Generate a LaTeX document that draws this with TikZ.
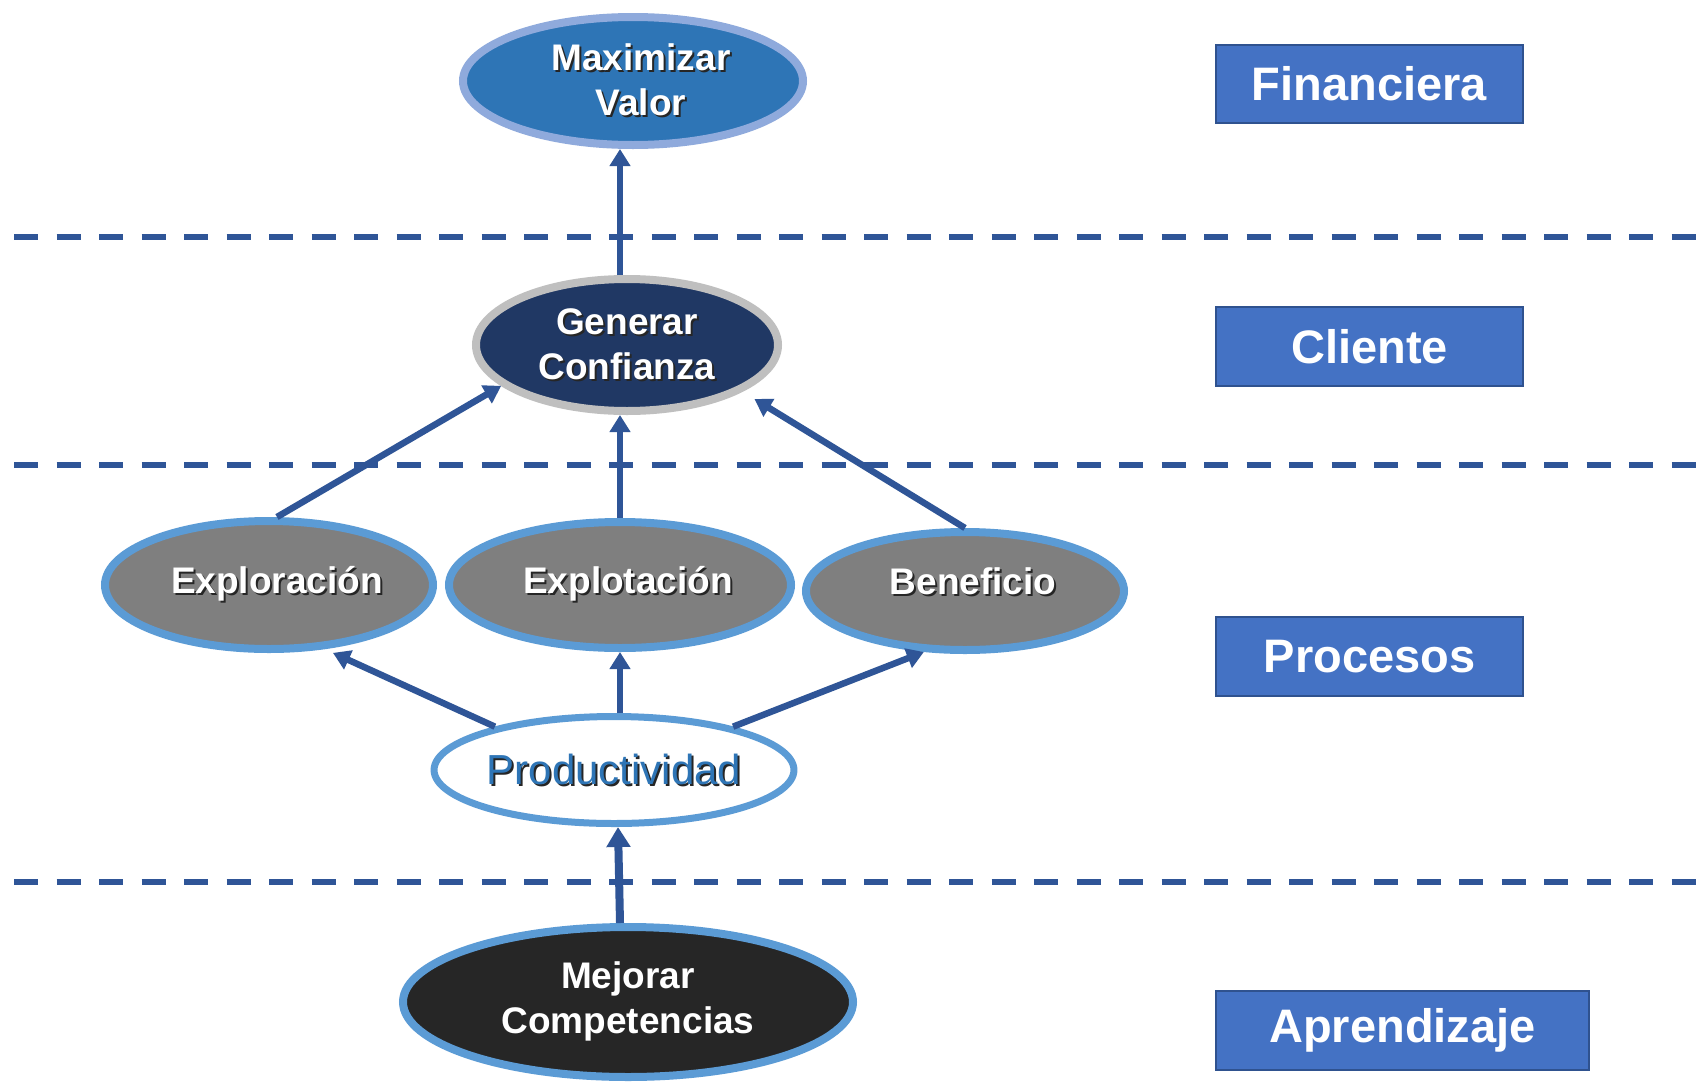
\documentclass[tikz,border=0pt]{standalone}
\usepackage{fontspec}
\setmainfont{Liberation Sans}
\usetikzlibrary{shapes.geometric,arrows.meta}
\definecolor{arrowblue}{HTML}{2F5597}
\definecolor{maxfill}{HTML}{2E75B6}
\definecolor{maxline}{HTML}{8FAADC}
\definecolor{navy}{HTML}{203864}
\definecolor{lgray}{HTML}{BFBFBF}
\definecolor{midgray}{HTML}{7F7F7F}
\definecolor{skyline}{HTML}{5B9BD5}
\definecolor{darkfill}{HTML}{262626}
\definecolor{boxfill}{HTML}{4472C4}
\definecolor{boxline}{HTML}{2F528F}
\definecolor{prodblue}{HTML}{2E75B6}
\newcommand{\sht}[1]{\leavevmode\rlap{\kern2pt\raisebox{-2pt}{\textcolor{black!85}{#1}}}#1}
\newcommand{\rs}{\hspace*{16pt}}
\begin{document}
\begin{tikzpicture}[x=1pt,y=-1pt,
  ell/.style={ellipse, inner sep=0pt, line width=8pt, align=center,
    font=\fontsize{37}{45}\selectfont\bfseries, text=white},
  lvl/.style={draw=boxline, line width=1.5pt, fill=boxfill, text=white,
    font=\fontsize{47}{56}\selectfont\bfseries, inner sep=0pt},
  arr/.style={draw=arrowblue, line width=6.5pt, -{Triangle[width=20pt,length=17pt]}},
  sep/.style={draw=arrowblue, line width=5.5pt, dash pattern=on 24pt off 18.5pt}
]
\useasboundingbox[fill=white] (0,0) rectangle (1706,1082);

% separators
\draw[sep] (14,237) -- (1702,237);
\draw[sep] (14,465) -- (1702,465);
\draw[sep] (14,882) -- (1702,882);

% level boxes
\node[lvl, minimum width=307pt, minimum height=78pt] (fin) at (1369.5,84) {Financiera};
\node[lvl, minimum width=307pt, minimum height=79pt] (cli) at (1369.5,346.5) {Cliente};
\node[lvl, minimum width=307pt, minimum height=79pt] (pro) at (1369.5,656.5) {Procesos};
\node[lvl, minimum width=373pt, minimum height=79pt] (apr) at (1402.5,1030.5) {Aprendizaje};

% ellipses
\node[ell, fill=maxfill, draw=maxline, minimum width=340pt, minimum height=128pt] (max) at (633,81) {\rs\sht{Maximizar}\\\rs\sht{Valor}};
\node[ell, fill=navy, draw=lgray, minimum width=302pt, minimum height=132pt] (gen) at (627,345) {\sht{Generar}\\\sht{Confianza}};
\node[ell, fill=midgray, draw=skyline, minimum width=328pt, minimum height=128pt] (explo) at (269,585) {\rs\sht{Exploración}};
\node[ell, fill=midgray, draw=skyline, minimum width=342pt, minimum height=126pt] (explot) at (620,585) {\rs\sht{Explotación}};
\node[ell, fill=midgray, draw=skyline, minimum width=318pt, minimum height=118pt,
  text height=27pt, text depth=20pt] (benef) at (965,591) {\rs\sht{Beneficio}};
\node[ell, fill=white, draw=skyline, line width=7pt, text=prodblue, font=\fontsize{42}{50}\selectfont,
  minimum width=357pt, minimum height=107pt] (prod) at (614,770) {\sht{Productividad}};
\node[ell, fill=darkfill, draw=skyline, minimum width=450pt, minimum height=150pt] (mej) at (628,1002) {\sht{Mejorar}\\\sht{Competencias}};

% connectors
\coordinate (ax) at (620,0);
\draw[arr] (ax |- gen.north) -- (ax |- max.south);
\draw[arr] ([xshift=8pt]explo.north) -- (gen.198);
\draw[arr] (explot.north) -- (explot.north |- gen.south);
\draw[arr, shorten >=14pt] (benef.north) -- (gen.338);
\draw[arr, shorten >=9pt] (prod.160) -- (explo.311);
\draw[arr] (explot.south |- prod.north) -- (explot.south);
\draw[arr] (prod.20) -- (benef.236);
\draw[arr, line width=8pt, -{Triangle[width=23pt,length=20pt]}] ([xshift=-8pt]mej.north) -- ([xshift=4pt]prod.south);
\end{tikzpicture}
\end{document}
